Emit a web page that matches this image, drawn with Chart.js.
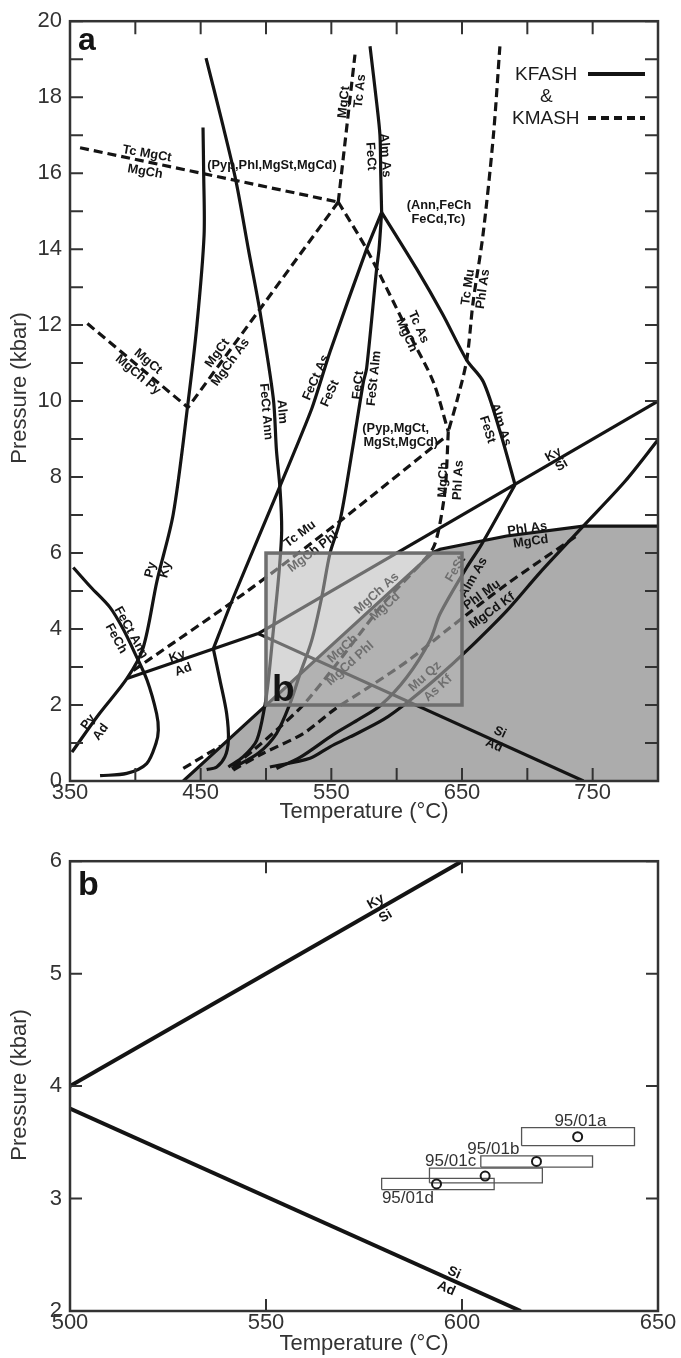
<!DOCTYPE html>
<html>
<head>
<meta charset="utf-8">
<script src="https://cdn.jsdelivr.net/npm/chart.js@4.4.1/dist/chart.umd.min.js"></script>
<style>
  body { margin: 0; background: #fff; }
  canvas { position: absolute; left: 0; }
  #topChart { top: 0; }
  #bottomChart { top: 840px; }
</style>
</head>
<body>
<canvas id="topChart" width="681" height="840"></canvas>
<canvas id="bottomChart" width="681" height="518"></canvas>
<script>
const FONT = '"Liberation Sans", Arial, Helvetica, sans-serif';
const INK = "#141414";

// ---- panel a : KFASH reactions (solid), points are [T degC, P kbar]
const pyLine = [[351.5,0.76],[372,1.75],[393.6,2.7],[406,3.51],[416.6,5.27],[429,7.02],[440.3,9.95],[447.2,12.03],[452.6,14.36],[452.3,16.0],[451.8,17.2]];
const fectAnn = [[454.1,19.03],[466,17.4],[476.8,15.83],[486.5,14.0],[495.4,12.35],[505.6,10.07],[508,8.7],[510.7,7.7],[512,6.6],[510,5.5],[505.6,3.96],[501.8,2.65],[499.2,2.0],[492.9,1.07],[482.6,0.64],[471.2,0.37]];
const feCh = [[352.5,5.62],[366,5.1],[380.6,4.57],[391,3.98],[399.7,3.36],[409,2.65],[416.3,1.77],[417.6,1.34],[415.8,0.99],[408.7,0.46],[393.4,0.2],[373,0.14]];
const kyAd = [[393.6,2.7],[494,3.88]];
const kySi = [[494,3.88],[800,10]];
const siAd = [[494,3.88],[743,0]];
const ann460 = [[459.7,3.48],[464.8,2.65],[469.9,1.77],[471.2,1.07],[468.6,0.64],[462.3,0.37],[454.6,0.3]];
const fectFest = [[459.7,3.48],[475,4.83],[510,7.7],[535,9.8],[549,11.3],[577,14.0],[588.5,14.97]];
const almUp = [[588.5,14.97],[587.8,16],[587.2,17],[584.7,17.85],[579.6,19.34]];
const almDown = [[588.5,14.97],[586.5,14],[584.6,13.46],[577,10.86],[574.5,10.5],[566,8.7],[556.6,6.84],[549,6.0],[542.6,4.83],[535,3.7],[526,2.82],[518.4,2.04],[508,1.25],[494,0.73],[473.8,0.33]];
const almFest = [[588.5,14.97],[615.3,13.48],[635,12.3],[653.6,11.08],[666.3,10.51],[679.1,9.2],[690.6,7.8]];
const almFestLow = [[690.6,7.8],[665,6.23],[653.6,5.62],[633.2,4.4],[625.5,3.7],[607.7,2.73],[588,2.0],[570,1.6],[551.5,1.22],[526,0.62],[508,0.33]];
const muQz = [[503,0.37],[533.7,0.6],[549,0.9],[564.3,1.16],[590,1.62],[610,2.12],[632,2.75],[653.6,3.43],[684.2,4.48],[710,5.5],[742.8,6.71],[774.8,7.89],[800,8.98]];
// upper edge of the grey field (Phl As / MgCd and its low-T limb)
const shadeEdge = [[436.7,0],[498.7,1.95],[628,6.02],[633.2,6.1],[684.2,6.45],[742.8,6.71],[800,6.71]];

// ---- panel a : KMASH reactions (dashed)
const tcMgct = [[357.7,16.67],[555.3,15.24]];
const mgctTc = [[555.3,15.24],[568.1,19.12]];
const mgctAs = [[555.3,15.24],[440.3,9.83]];
const mgctPy = [[363.3,12.04],[440.3,9.83]];
const tcAs = [[555.3,15.24],[577,14.0],[610.2,11.73],[628,10.51],[639.5,9.2]];
const tcMu = [[679,19.34],[674,16.98],[666,14.36],[658.5,12.61],[653.6,11.08],[646,9.99],[639.5,9.2]];
const mgchPhl = [[639.5,9.2],[637,7.63],[628,6.14],[589.7,4.67],[554.1,3.08],[528.5,2.0],[510.7,1.42],[490.3,0.81],[472.4,0.33]];
const tcMuLow = [[398.5,2.91],[482.6,4.92],[556.6,6.84],[637,9.05]];
const shortDash = [[436.7,0.33],[465,0.92]];
const phlMu = [[474.9,0.29],[497.9,0.73],[528.5,1.25],[553,1.9],[580,2.5],[610,3.2],[638,3.96],[684.2,5.18],[737.7,6.45]];

// window enlarged in panel b
const boxT = [500, 650];
const boxP = [2, 6];

// ---- panel b
const kySiB = [[500,4],[600,6]];
const siAdB = [[500,3.8],[615,2.0]];
const samples = ["95/01a", "95/01b", "95/01c", "95/01d"];
const sampleT = [629.5, 619.0, 605.9, 593.5];
const sampleP = [3.55, 3.33, 3.20, 3.13];
const tMin = [615.2, 604.8, 591.7, 579.5];
const tMax = [644.0, 633.3, 620.5, 608.2];
const pMin = [3.47, 3.28, 3.14, 3.08];
const pMax = [3.63, 3.38, 3.27, 3.18];

// reaction labels: text, T, P, rotation (deg)
const labelsA = [
  ["Tc MgCt", 408.9, 16.51, 10], ["MgCh", 407.4, 16.04, 10],
  ["(Pyp,Phl,MgSt,MgCd)", 504.6, 16.2, 0],
  ["MgCt", 409.7, 11.04, 40], ["MgCh Py", 402.0, 10.69, 40],
  ["MgCt", 462.8, 11.26, -54], ["MgCh As", 472.8, 11.02, -54],
  ["MgCt", 559.7, 17.87, -84], ["Tc As", 571.9, 18.16, -84],
  ["Alm As", 591.1, 16.47, 86], ["FeCt", 580.1, 16.44, 86],
  ["(Ann,FeCh", 632.4, 15.16, 0], ["FeCd,Tc)", 631.9, 14.78, 0],
  ["Tc Mu", 654.6, 13.0, -82], ["Phl As", 666.1, 12.95, -82],
  ["Tc As", 616.6, 11.95, 66], ["MgCh", 607.7, 11.74, 66],
  ["FeCt", 570.6, 10.42, -84], ["FeSt Alm", 582.7, 10.6, -84],
  ["FeCt As", 538.3, 10.62, -66], ["FeSt", 549, 10.2, -66],
  ["FeCt Ann", 500, 9.72, 85], ["Alm", 512.2, 9.72, 85],
  ["Py", 411.8, 5.56, -76], ["Ky", 423.2, 5.56, -76],
  ["FeCt Ann", 396.7, 3.91, 61], ["FeCh", 385.2, 3.75, 61],
  ["Ky", 432.1, 3.28, -20], ["Ad", 436.7, 2.93, -20],
  ["Py", 364, 1.55, -53], ["Ad", 373.5, 1.29, -53],
  ["Tc Mu", 526, 6.5, -37], ["MgCh Phl", 536, 6.03, -37],
  ["(Pyp,MgCt,", 599.3, 9.27, 0], ["MgSt,MgCd)", 603.1, 8.92, 0],
  ["Alm As", 679.6, 9.38, 72], ["FeSt", 669.4, 9.25, 72],
  ["MgCh", 635.7, 7.93, -87], ["Phl As", 647.2, 7.92, -87],
  ["Ky", 719.9, 8.59, -30], ["Si", 726.3, 8.31, -30],
  ["Phl As", 700, 6.64, -8], ["MgCd", 702.6, 6.3, -8],
  ["FeSt", 645.2, 5.58, -60], ["Alm As", 658.6, 5.36, -60],
  ["Phl Mu", 665.3, 4.9, -36], ["MgCd Kf", 673, 4.48, -36],
  ["MgCh As", 584.7, 4.94, -42], ["MgCd", 591.1, 4.59, -42],
  ["MgCh", 558.7, 3.48, -42], ["MgCd Phl", 564.3, 3.09, -42],
  ["Mu Qz", 621.7, 2.75, -42], ["As Kf", 631.6, 2.44, -42],
  ["Si", 679.1, 1.28, 25], ["Ad", 674.5, 0.94, 25],
];
const labelsB = [
  ["Ky", 578, 5.64, -30], ["Si", 580.5, 5.51, -30],
  ["Si", 598, 2.34, 24], ["Ad", 596, 2.2, 24],
];
const sampleLabelPos = [[630.2, 3.69], [608, 3.44], [597.1, 3.33], [586.2, 3.0]];

const pts = (a) => a.map(([x, y]) => ({ x, y }));
const solid = (a, t = 0.3, w = 3.2) => ({
  data: pts(a), showLine: true, borderColor: INK, borderWidth: w,
  tension: t, pointRadius: 0, fill: false,
});
const dashed = (a, t = 0.3) => ({ ...solid(a, t), borderDash: [9, 5] });

function drawLabels(chart, list, size) {
  const { ctx, scales: { x, y } } = chart;
  ctx.save();
  ctx.font = "bold " + size + "px " + FONT;
  ctx.fillStyle = INK;
  ctx.textAlign = "center";
  ctx.textBaseline = "middle";
  list.forEach(([t, T, P, ang]) => {
    ctx.save();
    ctx.translate(x.getPixelForValue(T), y.getPixelForValue(P));
    ctx.rotate((ang * Math.PI) / 180);
    ctx.fillText(t, 0, 0);
    ctx.restore();
  });
  ctx.restore();
}

function drawFrame(chart, len) {
  const { ctx, chartArea: a, scales: { x, y } } = chart;
  ctx.save();
  ctx.strokeStyle = "#333";
  ctx.lineWidth = 2;
  ctx.beginPath();
  x.ticks.forEach((t) => {
    const px = x.getPixelForValue(t.value);
    ctx.moveTo(px, a.bottom); ctx.lineTo(px, a.bottom - len);
    ctx.moveTo(px, a.top); ctx.lineTo(px, a.top + len);
  });
  y.ticks.forEach((t) => {
    const py = y.getPixelForValue(t.value);
    ctx.moveTo(a.left, py); ctx.lineTo(a.left + len, py);
    ctx.moveTo(a.right, py); ctx.lineTo(a.right - len, py);
  });
  ctx.stroke();
  ctx.lineWidth = 2.5;
  ctx.strokeRect(a.left, a.top, a.right - a.left, a.bottom - a.top);
  ctx.restore();
}

function axisTitles(chart, yMid, xMid) {
  const { ctx, chartArea: a } = chart;
  ctx.save();
  ctx.font = "22px " + FONT;
  ctx.fillStyle = "#333";
  ctx.textAlign = "center";
  ctx.textBaseline = "middle";
  ctx.fillText("Temperature (\u00b0C)", (a.left + a.right) / 2, xMid);
  ctx.translate(20, yMid);
  ctx.rotate(-Math.PI / 2);
  ctx.fillText("Pressure (kbar)", 0, 0);
  ctx.restore();
}

const topDecor = {
  id: "topDecor",
  afterDatasetsDraw(chart) {
    const { ctx, chartArea: a, scales: { x, y } } = chart;
    ctx.save();
    ctx.beginPath();
    ctx.rect(a.left, a.top, a.right - a.left, a.bottom - a.top);
    ctx.clip();
    drawLabels(chart, labelsA, 12.8);
    // window b, washed grey
    const x0 = x.getPixelForValue(boxT[0]), x1 = x.getPixelForValue(boxT[1]);
    const y0 = y.getPixelForValue(boxP[1]), y1 = y.getPixelForValue(boxP[0]);
    ctx.fillStyle = "rgba(184,184,184,0.55)";
    ctx.fillRect(x0, y0, x1 - x0, y1 - y0);
    ctx.strokeStyle = "#6e6e6e";
    ctx.lineWidth = 3.5;
    ctx.strokeRect(x0, y0, x1 - x0, y1 - y0);
    ctx.fillStyle = INK;
    ctx.font = "bold 37px " + FONT;
    ctx.textAlign = "left";
    ctx.textBaseline = "alphabetic";
    ctx.fillText("b", x0 + 6, y1 - 4);
    ctx.restore();
  },
  afterDraw(chart) {
    const { ctx, chartArea: a } = chart;
    drawFrame(chart, 13);
    axisTitles(chart, 388, 812);
    ctx.save();
    ctx.fillStyle = INK;
    ctx.font = "bold 32px " + FONT;
    ctx.fillText("a", a.left + 8, a.top + 29);
    // legend
    ctx.font = "19px " + FONT;
    ctx.fillStyle = "#1a1a1a";
    ctx.textBaseline = "middle";
    ctx.fillText("KFASH", 515, 75);
    ctx.fillText("&", 540, 97);
    ctx.fillText("KMASH", 512, 119);
    ctx.strokeStyle = INK;
    ctx.lineWidth = 4;
    ctx.beginPath(); ctx.moveTo(588, 74); ctx.lineTo(645, 74); ctx.stroke();
    ctx.setLineDash([8, 5]);
    ctx.beginPath(); ctx.moveTo(588, 118); ctx.lineTo(645, 118); ctx.stroke();
    ctx.restore();
  },
};

const bottomDecor = {
  id: "bottomDecor",
  afterDatasetsDraw(chart) {
    drawLabels(chart, labelsB, 13.5);
    const { ctx, scales: { x, y } } = chart;
    ctx.save();
    ctx.font = "17px " + FONT;
    ctx.fillStyle = "#333";
    ctx.textAlign = "center";
    ctx.textBaseline = "middle";
    samples.forEach((s, i) => {
      const [T, P] = sampleLabelPos[i];
      ctx.fillText(s, x.getPixelForValue(T), y.getPixelForValue(P));
    });
    ctx.restore();
  },
  afterDraw(chart) {
    const { ctx, chartArea: a } = chart;
    drawFrame(chart, 12);
    axisTitles(chart, 245, 504);
    ctx.save();
    ctx.fillStyle = INK;
    ctx.font = "bold 34px " + FONT;
    ctx.fillText("b", a.left + 8, a.top + 34);
    ctx.restore();
  },
};

const tickFont = { family: FONT, size: 22 };
function xAxis(min, max, cb, h) {
  return {
    type: "linear", min, max,
    ticks: { stepSize: 50, autoSkip: false, maxRotation: 0, font: tickFont, color: "#333", padding: -1, callback: cb },
    grid: { display: false, drawTicks: false },
    border: { display: false },
    afterFit: (s) => { s.height = h; },
  };
}
function yAxis(min, max, cb) {
  return {
    type: "linear", min, max,
    ticks: { stepSize: 1, autoSkip: false, font: tickFont, color: "#333", padding: 8, callback: cb },
    grid: { display: false, drawTicks: false },
    border: { display: false },
    afterFit: (s) => { s.width = 70; },
  };
}

const shade = {
  ...solid(shadeEdge, 0),
  backgroundColor: "#acacac",
  fill: "origin",
  order: 10,
};

new Chart(document.getElementById("topChart"), {
  type: "scatter",
  data: {
    datasets: [
      shade,
      solid(pyLine), solid(fectAnn), solid(feCh), solid(kyAd, 0), solid(kySi, 0), solid(siAd, 0),
      solid(ann460), solid(fectFest, 0.2), solid(almUp), solid(almDown), solid(almFest),
      solid(almFestLow), solid(muQz),
      dashed(tcMgct, 0), dashed(mgctTc, 0), dashed(mgctAs, 0), dashed(mgctPy, 0), dashed(tcAs),
      dashed(tcMu), dashed(mgchPhl, 0.2), dashed(tcMuLow), dashed(shortDash, 0), dashed(phlMu),
    ],
  },
  plugins: [topDecor],
  options: {
    responsive: false,
    animation: false,
    devicePixelRatio: 1,
    layout: { padding: { top: 18, right: 23, left: 0, bottom: 0 } },
    plugins: { legend: { display: false }, tooltip: { enabled: false } },
    scales: {
      x: xAxis(350, 800, (v) => ((v - 350) % 100 === 0 && v < 800 ? v : ""), 59),
      y: yAxis(0, 20, (v) => (v % 2 === 0 ? v : "")),
    },
  },
});

const errBoxes = samples.map((s, i) => ({
  data: pts([[tMin[i], pMin[i]], [tMax[i], pMin[i]], [tMax[i], pMax[i]], [tMin[i], pMax[i]], [tMin[i], pMin[i]]]),
  showLine: true, borderColor: "#555", borderWidth: 1.3, tension: 0, pointRadius: 0, fill: false,
}));

new Chart(document.getElementById("bottomChart"), {
  type: "scatter",
  data: {
    datasets: [
      {
        data: sampleT.map((t, i) => ({ x: t, y: sampleP[i] })),
        pointRadius: 4.5, pointBorderWidth: 2, pointBorderColor: "#1a1a1a",
        pointBackgroundColor: "rgba(0,0,0,0)", showLine: false,
      },
      ...errBoxes,
      solid(kySiB, 0, 4), solid(siAdB, 0, 4),
    ],
  },
  plugins: [bottomDecor],
  options: {
    responsive: false,
    animation: false,
    devicePixelRatio: 1,
    layout: { padding: { top: 18, right: 23, left: 0, bottom: 0 } },
    plugins: { legend: { display: false }, tooltip: { enabled: false } },
    scales: {
      x: xAxis(500, 650, (v) => v, 47),
      y: yAxis(2, 6, (v) => v),
    },
  },
});
</script>
</body>
</html>
